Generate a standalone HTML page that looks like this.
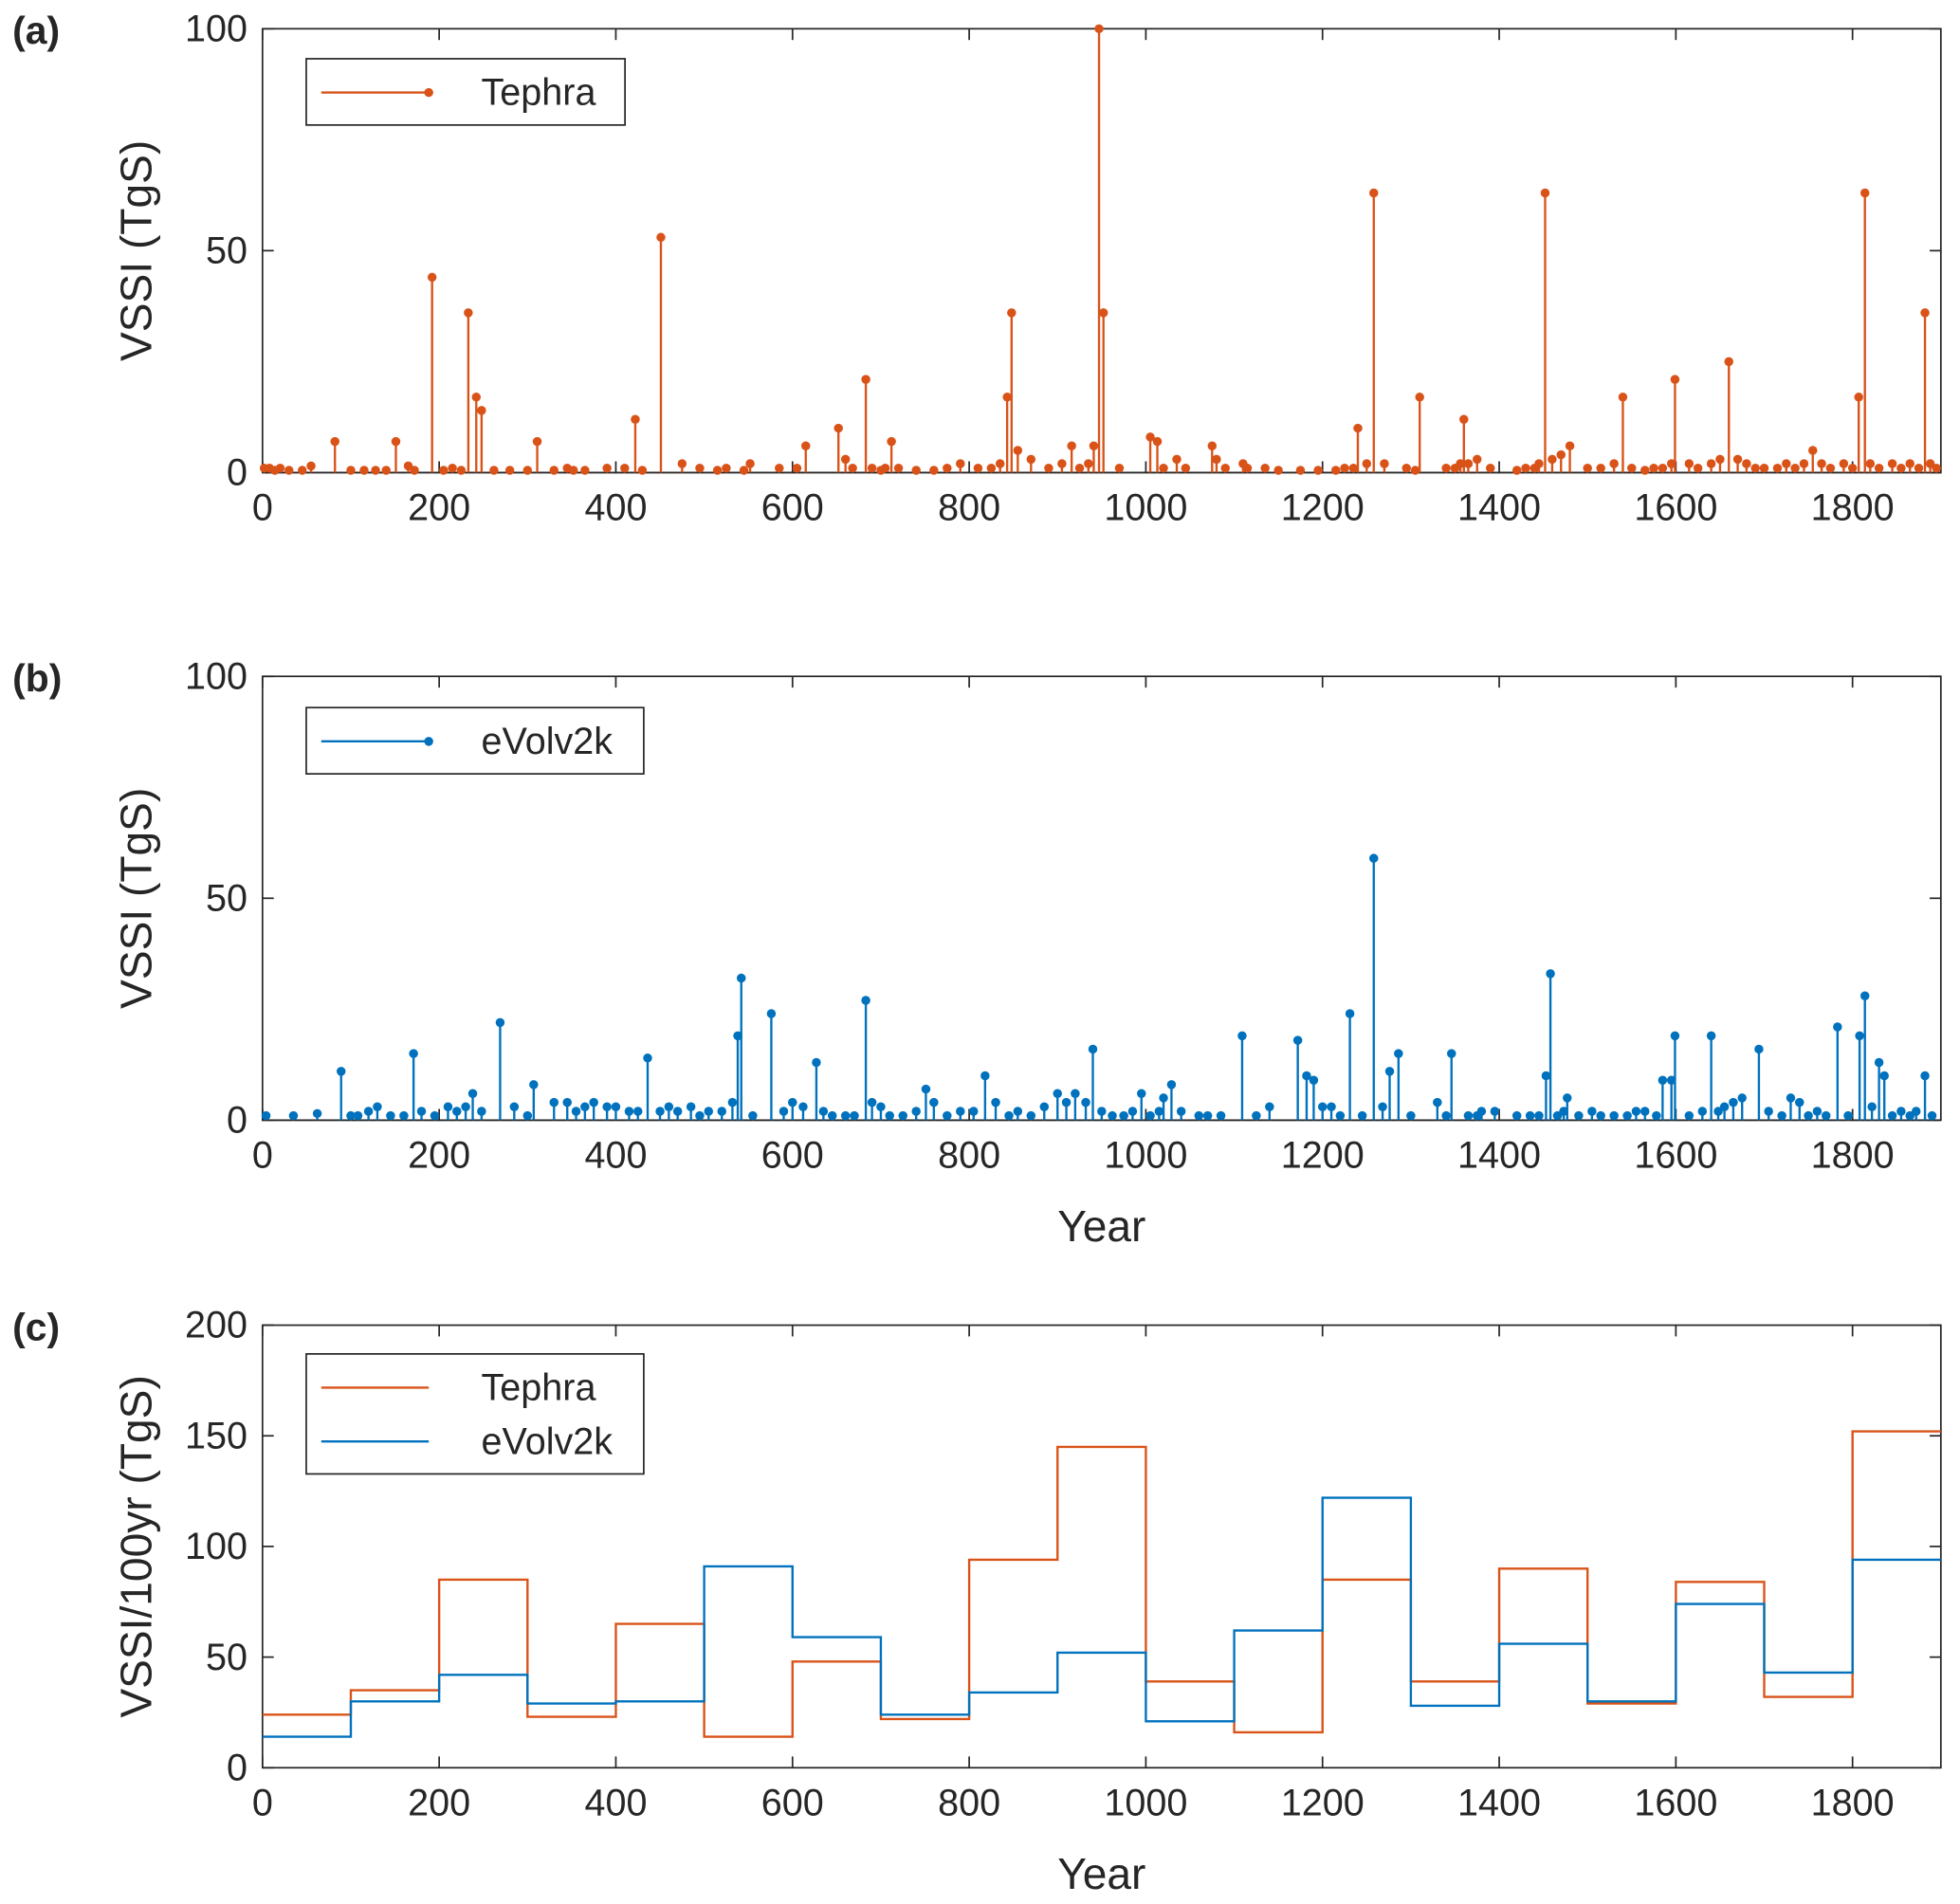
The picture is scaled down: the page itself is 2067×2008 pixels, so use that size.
<!DOCTYPE html>
<html><head><meta charset="utf-8"><style>
html,body{margin:0;padding:0;background:#fff}
svg{display:block}
text{font-family:"Liberation Sans",sans-serif;fill:#262626}
</style></head><body>
<svg id="fig" width="2067" height="2008" viewBox="0 0 1568 1523" preserveAspectRatio="none" xmlns="http://www.w3.org/2000/svg"></svg>
<script>
const tephraYears=[2,8,14,20,30,45,55,82,100,115,
128,140,151,165,172,192,205,215,225,233,
242,248,262,280,300,311,330,345,352,365,
390,410,422,430,451,475,495,515,525,545,
552,585,605,615,652,660,668,683,690,700,
705,712,720,740,760,775,790,810,825,835,
843,848,855,870,890,905,916,925,935,941,
947,952,970,1005,1013,1020,1035,1045,1075,1080,
1090,1110,1115,1135,1150,1175,1195,1215,1225,1235,
1240,1250,1258,1270,1295,1305,1310,1340,1350,1356,
1360,1365,1375,1390,1420,1430,1440,1445,1452,1460,
1470,1480,1500,1515,1530,1540,1550,1565,1575,1585,
1595,1599,1615,1625,1640,1650,1660,1670,1680,1690,
1700,1715,1725,1735,1745,1755,1765,1775,1790,1800,
1807,1814,1820,1830,1845,1855,1865,1875,1882,1888,
1895];
const tephraVals=[1,1,0.5,1,0.5,0.5,1.5,7,0.5,0.5,
0.5,0.5,7,1.5,0.5,44,0.5,1,0.5,36,
17,14,0.5,0.5,0.5,7,0.5,1,0.5,0.5,
1,1,12,0.5,53,2,1,0.5,1,0.5,
2,1,1,6,10,3,1,21,1,0.5,
1,7,1,0.5,0.5,1,2,1,1,2,
17,36,5,3,1,2,6,1,2,6,
100,36,1,8,7,1,3,1,6,3,
1,2,1,1,0.5,0.5,0.5,0.5,1,1,
10,2,63,2,1,0.5,17,1,1,2,
12,2,3,1,0.5,1,1,2,63,3,
4,6,1,1,2,17,1,0.5,1,1,
2,21,2,1,2,3,25,3,2,1,
1,1,2,1,2,5,2,1,2,1,
17,63,2,1,2,1,2,1,36,2,
1];
const evolvYears=[4,35,62,89,100,108,120,130,145,160,
171,180,195,210,220,230,238,248,269,285,
300,307,330,345,355,365,375,390,400,415,
425,436,450,460,470,485,495,505,520,532,
538,542,555,576,590,600,612,627,635,645,
660,670,683,690,700,710,725,740,751,760,
775,790,805,818,830,845,855,870,885,900,
910,920,932,940,950,962,975,985,995,1005,
1015,1020,1029,1040,1060,1070,1085,1109,1125,1140,
1172,1182,1190,1200,1210,1220,1231,1245,1258,1268,
1276,1286,1300,1330,1340,1346,1365,1375,1380,1395,
1420,1435,1445,1453,1458,1466,1473,1477,1490,1505,
1515,1530,1545,1555,1565,1578,1585,1595,1599,1615,
1630,1640,1648,1655,1665,1675,1694,1705,1720,1730,
1740,1750,1760,1770,1783,1795,1808,1814,1822,1830,
1836,1845,1855,1865,1872,1882,1890];
const evolvVals=[1,1,1.5,11,1,1,2,3,1,1,
15,2,1,3,2,3,6,2,22,3,
1,8,4,4,2,3,4,3,3,2,
2,14,2,3,2,3,1,2,2,4,
19,32,1,24,2,4,3,13,2,1,
1,1,27,4,3,1,1,2,7,4,
1,2,2,10,4,1,2,1,3,6,
4,6,4,16,2,1,1,2,6,1,
2,5,8,2,1,1,1,19,1,3,
18,10,9,3,3,1,24,1,59,3,
11,15,1,4,1,15,1,1,2,2,
1,1,1,10,33,1,2,5,1,2,
1,1,1,2,2,1,9,9,19,1,
2,19,2,3,4,5,16,2,1,5,
4,1,2,1,21,1,19,28,3,13,
10,1,2,1,2,10,1];
const centuries=[0,100,200,300,400,500,600,700,800,900,1000,1100,1200,1300,1400,1500,1600,1700,1800];
const tephraCentury=[24,35,85,23,65,14,48,22,94,145,39,16,85,39,90,29,84,32,152];
const evolvCentury=[14,30,42,29,30,91,59,24,34,52,21,62,122,28,56,30,74,43,94];
const xTicks=[0,200,400,600,800,1000,1200,1400,1600,1800];
const yTicksAB=[0,50,100];
const yTicksC=[0,50,100,150,200];

const svg=document.getElementById('fig');
const NS='http://www.w3.org/2000/svg';
const ORANGE='#D95319',BLUE='#0072BD';
function mk(tag,attrs,parent){const e=document.createElementNS(NS,tag);for(const k in attrs)e.setAttribute(k,attrs[k]);(parent||svg).appendChild(e);return e;}
const X0=210,X1=1552.7,XMAX=1900;
function xs(v){return X0+(X1-X0)*v/XMAX;}

function axes(name,top,bot,ymax,yticks,ylabel,letter,showXlabel){
  const g=mk('g',{});
  
  
  const ys=v=>bot-(bot-top)*v/ymax;
  mk('rect',{x:X0,y:top,width:X1-X0,height:bot-top,fill:'none',stroke:'#262626','stroke-width':1.3},g);
  xTicks.forEach(t=>{
    mk('line',{x1:xs(t),x2:xs(t),y1:bot,y2:bot-9,stroke:'#262626','stroke-width':1.3},g);
    mk('line',{x1:xs(t),x2:xs(t),y1:top,y2:top+9,stroke:'#262626','stroke-width':1.3},g);
    const tx=mk('text',{x:xs(t),y:bot+38,'font-size':30,'text-anchor':'middle'},g);tx.textContent=t;
    
    
  });
  yticks.forEach(t=>{
    mk('line',{x1:X0,x2:X0+9,y1:ys(t),y2:ys(t),stroke:'#262626','stroke-width':1.3},g);
    mk('line',{x1:X1,x2:X1-9,y1:ys(t),y2:ys(t),stroke:'#262626','stroke-width':1.3},g);
    const tx=mk('text',{x:X0-12,y:ys(t)+10,'font-size':30,'text-anchor':'end'},g);tx.textContent=t;
    
    
  });
  const cy=(top+bot)/2;
  const yl=mk('text',{x:0,y:0,'font-size':35,'text-anchor':'middle',transform:`translate(121,${cy}) rotate(-90)`},g);yl.textContent=ylabel;
  
  
  const pl=mk('text',{x:10,y:top+12,'font-size':31,'font-weight':'bold'},g);pl.textContent=letter;
  
  
  if(showXlabel){const xl=mk('text',{x:(X0+X1)/2,y:bot+97,'font-size':35,'text-anchor':'middle'},g);xl.textContent='Year';
    
    }
  return ys;
}
function stems(name,years,vals,ys,color,top){
  const g=mk('g',{});
  
  
  mk('line',{x1:X0,x2:X1,y1:ys(0),y2:ys(0),stroke:'#262626','stroke-width':1.3},g);
  years.forEach((yr,i)=>{
    const yv=Math.max(ys(vals[i]),top);
    const l=mk('line',{x1:xs(yr),x2:xs(yr),y1:ys(0),y2:yv,stroke:color,'stroke-width':1.8},g);
    
    
    if(ys(vals[i])>=top){const c=mk('circle',{cx:xs(yr),cy:yv,r:3.6,fill:color},g);
      
      }
  });
}
function legend(name,x,y,w,entries,marker){
  const g=mk('g',{});
  
  
  mk('rect',{x:x,y:y,width:w,height:entries.length*43+10,fill:'#fff',stroke:'#262626','stroke-width':1.3},g);
  entries.forEach((e,i)=>{
    const cy=y+27+i*43;
    mk('line',{x1:x+12,x2:x+98,y1:cy,y2:cy,stroke:e[1],'stroke-width':1.8},g);
    if(marker)mk('circle',{cx:x+98,cy:cy,r:3.6,fill:e[1]},g);
    const t=mk('text',{x:x+140,y:cy+10,'font-size':30},g);t.textContent=e[0];
    
    
  });
}
function steps(name,xs_,vals,ys,color){
  let d='';
  xs_.forEach((c,i)=>{const y=ys(vals[i]);d+=(i?'L':'M')+xs(c)+' '+y+' L'+xs(i<xs_.length-1?xs_[i+1]:XMAX)+' '+y+' ';});
  const p=mk('path',{d:d,fill:'none',stroke:color,'stroke-width':1.8});
  
  
}
const ysA=axes('panel-a-axes',23,378,100,yTicksAB,'VSSI (TgS)','(a)',false);
stems('tephra-stems',tephraYears,tephraVals,ysA,ORANGE,23);
legend('legend-a',245,47,255,[['Tephra',ORANGE]],true);
const ysB=axes('panel-b-axes',541,896,100,yTicksAB,'VSSI (TgS)','(b)',true);
stems('evolv-stems',evolvYears,evolvVals,ysB,BLUE,541);
legend('legend-b',245,566,270,[['eVolv2k',BLUE]],true);
const ysC=axes('panel-c-axes',1060,1414,200,yTicksC,'VSSI/100yr (TgS)','(c)',true);
steps('tephra-century-line',centuries,tephraCentury,ysC,ORANGE);
steps('evolv-century-line',centuries,evolvCentury,ysC,BLUE);
legend('legend-c',245,1083,270,[['Tephra',ORANGE],['eVolv2k',BLUE]],false);
</script>
</body></html>
